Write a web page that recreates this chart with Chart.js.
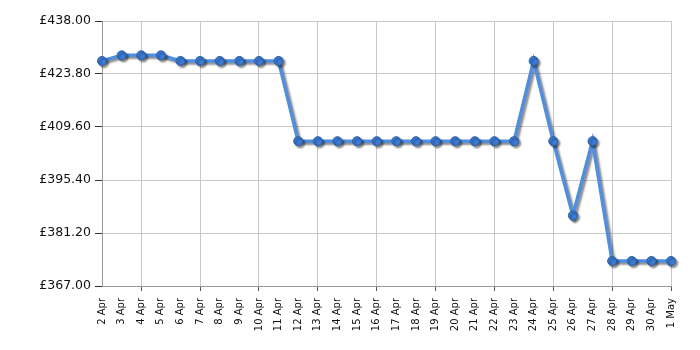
<!DOCTYPE html>
<html>
<head>
<meta charset="utf-8">
<script src="https://cdn.jsdelivr.net/npm/chart.js@4/dist/chart.umd.min.js"></script>
<style>
html,body{margin:0;padding:0;background:#fff;}
#wrap{width:700px;height:350px;}
</style>
</head>
<body>
<div id="wrap"><canvas id="c" width="700" height="350"></canvas></div>
<script>
const categories = ["2 Apr","3 Apr","4 Apr","5 Apr","6 Apr","7 Apr","8 Apr","9 Apr","10 Apr","11 Apr","12 Apr","13 Apr","14 Apr","15 Apr","16 Apr","17 Apr","18 Apr","19 Apr","20 Apr","21 Apr","22 Apr","23 Apr","24 Apr","25 Apr","26 Apr","27 Apr","28 Apr","29 Apr","30 Apr","1 May"];
const prices = [427.3,428.8,428.8,428.8,427.3,427.3,427.3,427.3,427.3,427.3,405.8,405.8,405.8,405.8,405.8,405.8,405.8,405.8,405.8,405.8,405.8,405.8,427.3,405.8,385.9,405.8,373.7,373.7,373.7,373.7];
const yTicks = [367.00,381.20,395.40,409.60,423.80,438.00];

const shadowPlugin = {
  id:'shadow',
  beforeDatasetDraw(chart){
    const ctx=chart.ctx; ctx.save();
    ctx.shadowColor='rgba(0,0,0,0.45)';
    ctx.shadowOffsetX=2; ctx.shadowOffsetY=2; ctx.shadowBlur=2;
  },
  afterDatasetDraw(chart){ chart.ctx.restore(); }
};

new Chart(document.getElementById('c'),{
  type:'line',
  data:{labels:categories,datasets:[{
    data:prices,
    borderColor:'#4f8ee0',
    borderWidth:3.5,
    pointRadius:4.5,
    pointBackgroundColor:'#3b7bd4',
    pointBorderColor:'#2b5ea6',
    pointBorderWidth:1,
    tension:0,
    clip:false
  }]},
  options:{
    responsive:false,
    animation:false,
    layout:{padding:{left:0,right:29,top:21,bottom:0}},
    plugins:{legend:{display:false},tooltip:{enabled:false}},
    scales:{
      x:{
        offset:false,
        afterFit(s){s.height=64;},
        border:{color:'#999',width:1},
        grid:{
          color:c=>(c.index%3===2?'#c8c8c8':'rgba(0,0,0,0)'),
          tickColor:c=>(c.index%3===2?'#555':'rgba(0,0,0,0)'),
          tickLength:5
        },
        ticks:{
          autoSkip:false,maxRotation:90,minRotation:90,
          color:'#111',padding:7,
          font:{family:'DejaVu Sans',size:10}
        }
      },
      y:{
        min:367,max:438,
        afterFit(s){s.width=102;},
        afterBuildTicks(s){s.ticks=yTicks.map(v=>({value:v}));},
        border:{color:'#999',width:1},
        grid:{color:'#c8c8c8',tickColor:'#333',tickLength:7},
        ticks:{
          color:'#111',padding:4,
          font:{family:'DejaVu Sans',size:12.5},
          callback:v=>'£'+Number(v).toFixed(2)
        }
      }
    }
  },
  plugins:[shadowPlugin]
});
</script>
</body>
</html>
